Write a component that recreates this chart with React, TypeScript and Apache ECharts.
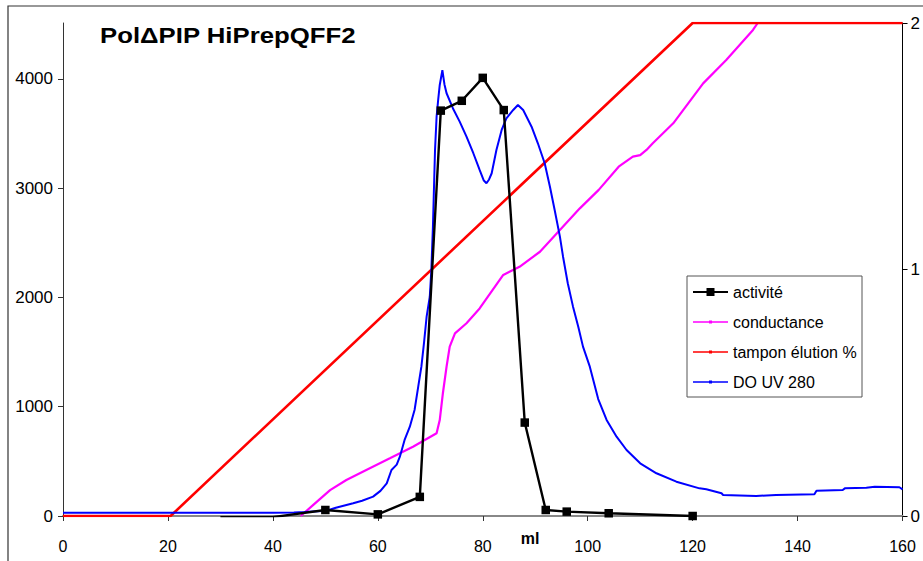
import React, { useEffect, useRef } from "react";
import * as echarts from "echarts";

// activité (left axis)
const activiteX = [30, 40, 50, 60, 68, 72, 76, 80, 84, 88, 92, 96, 104, 120];
const activiteY = [-10, -10, 55, 15, 175, 3710, 3800, 4010, 3715, 855, 55, 40, 25, 0];

// conductance (right axis)
const conductanceX = [45.3, 47.7, 50.9, 54, 57.8, 62.3, 66.7, 71.2, 71.8, 72.4, 73.1, 73.7, 74.7, 76.9, 79.4, 83.9, 87, 90.9, 94.7, 98.5, 102.1, 105.9, 108.6, 110, 111.2, 112.4, 116.3, 122, 126.4, 131.5, 132.4];
const conductanceY = [0, 0.045, 0.105, 0.146, 0.187, 0.234, 0.281, 0.336, 0.389, 0.498, 0.606, 0.687, 0.741, 0.782, 0.842, 0.978, 1.011, 1.072, 1.16, 1.248, 1.323, 1.417, 1.458, 1.464, 1.485, 1.512, 1.593, 1.755, 1.85, 1.972, 2.0];

// tampon élution % (right axis)
const tamponX = [0, 20.5, 120, 160];
const tamponY = [0, 0, 2, 2];

// DO UV 280 (left axis)
const uvX = [0, 20, 40, 44, 46, 50.2, 52, 55.3, 57, 59.1, 60.5, 61.7, 62.6, 63.6, 64.2, 65.1, 66.1, 67, 67.7, 68.3, 68.8, 69.3, 69.9, 70.2, 70.5, 70.9, 71.2, 71.5, 71.8, 72.3, 72.7, 73.1, 74.3, 75.6, 76.9, 78.2, 79.4, 80.2, 80.7, 81.2, 81.7, 82.6, 83.6, 84.5, 85.8, 86.7, 87.7, 89.3, 90.5, 91.8, 92.8, 93.7, 94.7, 95.3, 96.2, 97.2, 98.2, 99.1, 100.4, 102, 103.6, 105.5, 107.4, 110, 113.1, 116.9, 121.3, 122.6, 125.5, 125.8, 132.1, 135.9, 143.2, 143.6, 148.6, 149, 153.1, 154.7, 159.4, 160];
const uvY = [30, 30, 30, 32, 36, 48, 75, 116, 140, 177, 230, 299, 421, 470, 543, 696, 817, 970, 1184, 1367, 1584, 1824, 2007, 2252, 2648, 3350, 3655, 3808, 3945, 4080, 3950, 3869, 3732, 3609, 3472, 3320, 3167, 3070, 3045, 3080, 3137, 3350, 3533, 3640, 3716, 3762, 3716, 3563, 3411, 3228, 3014, 2801, 2557, 2373, 2130, 1916, 1733, 1550, 1367, 1070, 879, 726, 604, 482, 391, 314, 253, 244, 208, 192, 183, 192, 198, 232, 238, 253, 259, 268, 263, 244];

const xTicks = [0, 20, 40, 60, 80, 100, 120, 140, 160];
const leftTicks = [0, 1000, 2000, 3000, 4000];
const rightTicks = [0, 1, 2];

const seriesNames = ["activité", "conductance", "tampon élution %", "DO UV 280"];
const titleText = "PolΔPIP HiPrepQFF2";
const xName = "ml";

const zip = (xs: number[], ys: number[]) => xs.map((x, i) => [x, ys[i]]);
const plain = (v: number) => String(v);

// thin line with a small dot, for the legend samples
const dotLineIcon = "path://M0,4.2h35v1.6H0z M16,3.6h3v2.8h-3z";

export default function App() {
  const ref = useRef<HTMLDivElement>(null);
  useEffect(() => {
    if (!ref.current) return;
    const chart = echarts.init(ref.current, null, { renderer: "svg" });
    const font = '"Liberation Sans", Arial, sans-serif';
    chart.setOption({
      animation: false,
      backgroundColor: "#ffffff",
      textStyle: { fontFamily: font },
      grid: { left: 63, right: 20, top: 23, bottom: 45, containLabel: false },
      xAxis: {
        type: "value",
        min: 0,
        max: 160,
        interval: 20,
        axisLine: { lineStyle: { color: "#888888", width: 2 } },
        axisTick: { show: true, length: 5, inside: false, lineStyle: { color: "#333333" }, customValues: xTicks },
        axisLabel: { color: "#000", fontSize: 16, margin: 22, fontFamily: font, customValues: xTicks, formatter: plain },
        splitLine: { show: false },
      },
      yAxis: [
        {
          type: "value",
          min: 0,
          max: 4512,
          interval: 1000,
          axisLine: { show: true, lineStyle: { color: "#333333", width: 1 } },
          axisTick: { show: true, length: 5, lineStyle: { color: "#333333" }, customValues: leftTicks },
          axisLabel: { color: "#000", fontSize: 17, margin: 10, fontFamily: font, customValues: leftTicks, formatter: plain },
          splitLine: { show: false },
        },
        {
          type: "value",
          min: 0,
          max: 2,
          interval: 1,
          position: "right",
          axisLine: { show: true, lineStyle: { color: "#000000", width: 1 } },
          axisTick: { show: true, length: 5, lineStyle: { color: "#000" }, customValues: rightTicks },
          axisLabel: { color: "#000", fontSize: 17, margin: 8, fontFamily: font, customValues: rightTicks, formatter: plain },
          splitLine: { show: false },
        },
      ],
      legend: {
        orient: "vertical",
        left: 687,
        top: 276,
        z: 20,
        padding: [8, 5, 7, 5],
        itemWidth: 35,
        itemHeight: 10,
        itemGap: 14,
        selectedMode: false,
        textStyle: { fontSize: 16, color: "#000", fontFamily: font, lineHeight: 16, height: 16 },
        data: [
          { name: seriesNames[0] },
          { name: seriesNames[1], icon: dotLineIcon },
          { name: seriesNames[2], icon: dotLineIcon },
          { name: seriesNames[3], icon: dotLineIcon },
        ],
      },
      series: [
        {
          name: seriesNames[0],
          type: "line",
          yAxisIndex: 0,
          data: zip(activiteX, activiteY),
          symbol: "rect",
          symbolSize: 8.5,
          showSymbol: true,
          itemStyle: { color: "#000000" },
          lineStyle: { color: "#000000", width: 2.4 },
          z: 4,
          silent: true,
        },
        {
          name: seriesNames[1],
          type: "line",
          yAxisIndex: 1,
          data: zip(conductanceX, conductanceY),
          symbol: "circle",
          symbolSize: 2,
          showSymbol: false,
          itemStyle: { color: "#FF00FF" },
          lineStyle: { color: "#FF00FF", width: 2.2 },
          z: 2,
          silent: true,
        },
        {
          name: seriesNames[2],
          type: "line",
          yAxisIndex: 1,
          data: zip(tamponX, tamponY),
          symbol: "circle",
          symbolSize: 2,
          showSymbol: false,
          itemStyle: { color: "#FF0000" },
          lineStyle: { color: "#FF0000", width: 2.6 },
          z: 2,
          silent: true,
        },
        {
          name: seriesNames[3],
          type: "line",
          yAxisIndex: 0,
          data: zip(uvX, uvY),
          symbol: "circle",
          symbolSize: 2,
          showSymbol: false,
          itemStyle: { color: "#0000FF" },
          lineStyle: { color: "#0000FF", width: 2 },
          z: 3,
          silent: true,
        },
      ],
      graphic: [
        {
          type: "rect",
          shape: { x: 8, y: 6, width: 1000, height: 1000 },
          style: { fill: "none", stroke: "#333333", lineWidth: 1.2 },
          silent: true,
          z: -1,
        },
        {
          type: "rect",
          shape: { x: 687, y: 276, width: 175, height: 121 },
          style: { fill: "#ffffff", stroke: "#555555", lineWidth: 1 },
          silent: true,
          z: 5,
        },
        {
          type: "text",
          x: 100,
          y: 23,
          scaleX: 1.12,
          style: {
            text: titleText,
            font: 'bold 23px "Liberation Sans", Arial, sans-serif',
            fill: "#000",
            align: "left",
            verticalAlign: "top",
          },
          silent: true,
          z: 10,
        },
        {
          type: "text",
          x: 530,
          y: 538,
          style: {
            text: xName,
            font: 'bold 16px "Liberation Sans", Arial, sans-serif',
            fill: "#000",
            align: "center",
            verticalAlign: "middle",
          },
          silent: true,
          z: 10,
        },
      ],
    });
    return () => chart.dispose();
  }, []);
  return (
    <div
      ref={ref}
      style={{ position: "fixed", left: 0, top: 0, width: 923, height: 561, background: "#fff" }}
    />
  );
}
